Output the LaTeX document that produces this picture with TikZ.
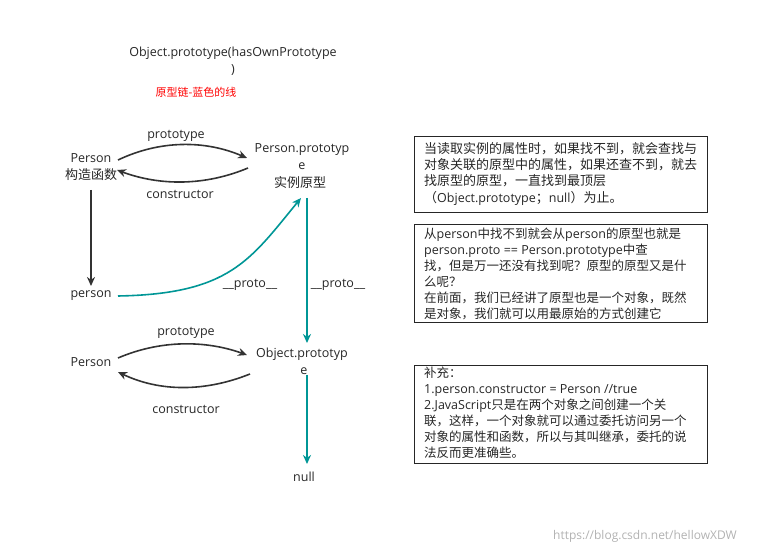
\documentclass[tikz,border=0pt]{standalone}
\usepackage{fontspec}
\setmainfont{Open Sans}
\newfontfamily\cjk{Noto Sans CJK SC}
\usetikzlibrary{arrows.meta}
\definecolor{tl}{RGB}{0,150,150}
\begin{document}
\begin{tikzpicture}[x=1pt,y=-1pt,
  t/.style={font=\fontsize{12.5}{14}\selectfont,text=black!85,inner sep=0pt},
  bl/.style={font=\fontsize{12.5}{16}\selectfont,text=black!85,align=left,anchor=north west,inner sep=0pt},
  ar/.style={draw=black!80,line width=1.6pt,-{Stealth[length=9pt,width=8pt]}},
  te/.style={draw=tl,line width=1.6pt,-{Stealth[length=9pt,width=8pt]}},
  bx/.style={draw=black!85,line width=1pt}]
\useasboundingbox (0,0) rectangle (769,553);
\node[t] (op) at (233,53) {Object.prototype(hasOwnPrototype};
\node[t] at (233,70) {)};
\node[t,text=red,font=\fontsize{11}{12}\cjk] at (196,92) {原型链-蓝色的线};
\node[t] (p1) at (91,158) {Person};
\node[t,font=\fontsize{13}{14}\cjk] (p1b) at (91,175) {构造函数};
\node[t] (pp) at (302,150) {Person.prototyp};
\node[t] at (302,166) {e};
\node[t,font=\fontsize{13}{14}\cjk] (pp3) at (300,183) {实例原型};
\coordinate (a1) at (118,160); \coordinate (a2) at (247,158);
\draw[ar] (a1) .. controls (160,140) and (205,140) .. (a2);
\node[t] at (176,136) {prototype};
\coordinate (b1) at (248,168); \coordinate (b2) at (117,170);
\draw[ar] (b1) .. controls (205,186) and (160,186) .. (b2);
\node[t] at (180,194) {constructor};
\node[t] (ps) at (91,296) {person};
\coordinate (c1) at (91,190); \coordinate (c2) at (91,286);
\draw[ar] (c1) -- (c2);
\coordinate (d1) at (118,296); \coordinate (d2) at (301,198);
\draw[te] (d1) .. controls (230,294) and (250,260) .. (d2);
\node[t] at (250,285) {\_\_proto\_\_};
\coordinate (e1) at (307,198); \coordinate (e2) at (307,343);
\draw[te] (e1) -- (e2);
\node[t] at (338,285) {\_\_proto\_\_};
\node[t] (p2) at (91,362) {Person};
\node[t] (opp) at (302,354) {Object.prototyp};
\node[t] at (304,371) {e};
\coordinate (f1) at (118,358); \coordinate (f2) at (247,355);
\draw[ar] (f1) .. controls (160,340) and (205,340) .. (f2);
\node[t] at (186,333) {prototype};
\coordinate (g1) at (250,374); \coordinate (g2) at (118,372);
\draw[ar] (g1) .. controls (205,392) and (160,392) .. (g2);
\node[t] at (186,409) {constructor};
\coordinate (h1) at (307,375); \coordinate (h2) at (307,464);
\draw[te] (h1) -- (h2);
\node[t] (nl) at (304,477) {null};
\draw[bx] (414,137) rectangle (707,213);
\node[bl,font=\fontsize{13}{16.3}\cjk] at (424,142) {当读取实例的属性时，如果找不到，就会查找与\\对象关联的原型中的属性，如果还查不到，就去\\找原型的原型，一直找到最顶层\\（{\fontspec{Open Sans}\fontsize{12.5}{16}\selectfont Object.prototype}；{\fontspec{Open Sans}\fontsize{12.5}{16}\selectfont null}）为止。};
\draw[bx] (414,225) rectangle (707,323);
\node[bl] at (424,228) {{\cjk 从}person{\cjk 中找不到就会从}person{\cjk 的原型也就是}\\person.proto == Person.prototype{\cjk 中查}\\{\cjk 找，但是万一还没有找到呢？原型的原型又是什}\\{\cjk 么呢？}\\{\cjk 在前面，我们已经讲了原型也是一个对象，既然}\\{\cjk 是对象，我们就可以用最原始的方式创建它}};
\draw[bx] (414,366) rectangle (707,463);
\node[bl] at (424,367) {{\cjk 补充：}\\1.person.constructor = Person //true\\2.JavaScript{\cjk 只是在两个对象之间创建一个关}\\{\cjk 联，这样，一个对象就可以通过委托访问另一个}\\{\cjk 对象的属性和函数，所以与其叫继承，委托的说}\\{\cjk 法反而更准确些。}};
\node[t,text=black!30,font=\fontsize{12}{14}\selectfont] at (645,536) {https://blog.csdn.net/hellowXDW};
\end{tikzpicture}
\end{document}
